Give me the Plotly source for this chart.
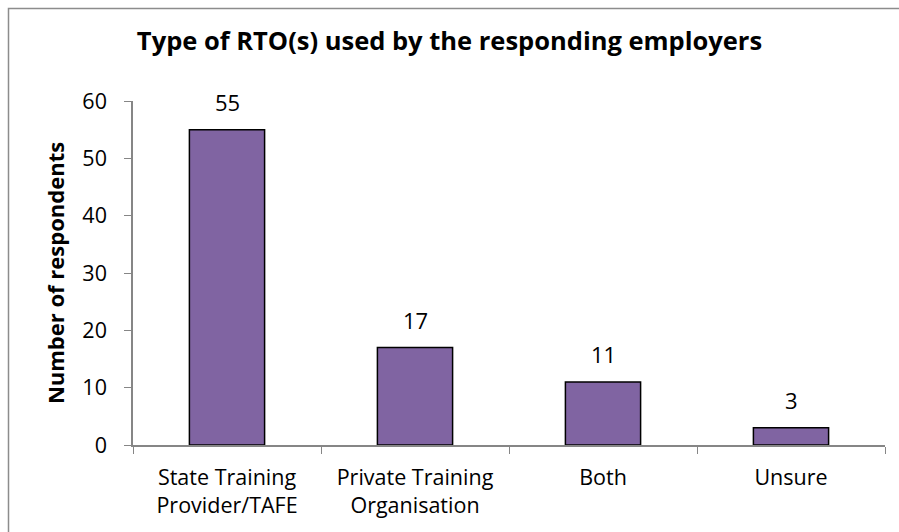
import plotly.graph_objects as go

# Survey responses: type of RTO used
categories = ["State Training<br>Provider/TAFE", "Private Training<br>Organisation", "Both", "Unsure"]
respondents = [55, 17, 11, 3]
y_ticks = [0, 10, 20, 30, 40, 50, 60]

FONT = "'Open Sans', sans-serif"
AXIS_GREY = "#868686"

W, H = 899, 532
L, R, T, B = 133, 885, 101, 445  # plot area in pixels

fig = go.Figure(
    go.Bar(
        x=categories,
        y=respondents,
        marker=dict(color="#8064A2", line=dict(color="#000000", width=1.5)),
        width=0.4,
        hoverinfo="x+y",
    )
)

# Value labels above each bar, placed at the bar's own value
for cat, val in zip(categories, respondents):
    fig.add_annotation(
        x=cat,
        y=val,
        text=str(val),
        showarrow=False,
        yanchor="bottom",
        yshift=11,
        font=dict(family=FONT, size=22, color="#000000"),
    )

pw, ph = R - L, B - T
fig.update_layout(
    width=W,
    height=H,
    margin=dict(l=L, r=W - R, t=T, b=H - B),
    paper_bgcolor="white",
    plot_bgcolor="white",
    showlegend=False,
    font=dict(family=FONT, size=20, color="#000000"),
    title=dict(
        text="<b>Type of RTO(s) used by the responding employers</b>",
        x=0.5,
        xanchor="center",
        y=1 - 41 / H,
        yanchor="middle",
        font=dict(family=FONT, size=25.5, color="#000000"),
    ),
    xaxis=dict(
        showline=True,
        linecolor=AXIS_GREY,
        linewidth=1.5,
        ticks="outside",
        tickson="boundaries",
        ticklen=7,
        tickcolor=AXIS_GREY,
        showgrid=False,
        tickfont=dict(family=FONT, size=21.5),
        ticklabelstandoff=12,
    ),
    yaxis=dict(
        range=[0, 60],
        tickvals=y_ticks,
        showline=True,
        linecolor=AXIS_GREY,
        linewidth=1.5,
        ticks="outside",
        ticklen=7,
        tickcolor=AXIS_GREY,
        showgrid=False,
        zeroline=False,
        tickfont=dict(family=FONT, size=21.5),
        ticklabelstandoff=13,
        title=dict(
            text="<b>Number of respondents</b>",
            font=dict(family=FONT, size=22),
            standoff=12,
        ),
    ),
    shapes=[
        dict(
            type="rect",
            xref="paper",
            yref="paper",
            x0=(8.5 - L) / pw,
            x1=(905 - L) / pw,
            y0=(B - 540) / ph,
            y1=(B - 8.5) / ph,
            line=dict(color="#8c8c8c", width=1.5),
            fillcolor="rgba(0,0,0,0)",
            layer="below",
        )
    ],
)

fig.write_html("out.html")
